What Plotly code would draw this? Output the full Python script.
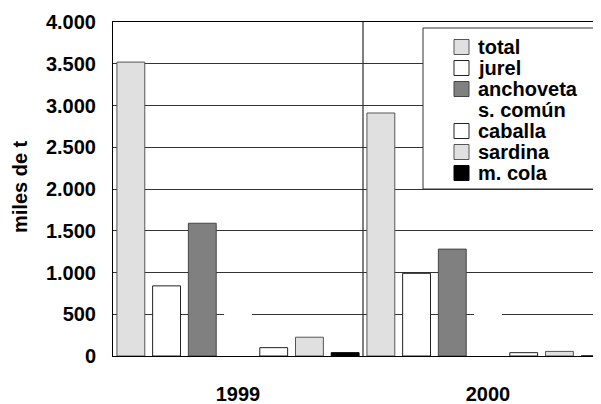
import plotly.graph_objects as go

categories = ["1999", "2000"]
series_names = ["total", "jurel", "anchoveta", "s. común", "caballa", "sardina", "m. cola"]
total = [3520, 2910]
jurel = [840, 990]
anchoveta = [1590, 1280]
s_comun = [600, 600]
caballa = [100, 40]
sardina = [225, 55]
m_cola = [40, 0]
y_ticks = [0, 500, 1000, 1500, 2000, 2500, 3000, 3500, 4000]

values = [total, jurel, anchoveta, s_comun, caballa, sardina, m_cola]
fills = ["#e0e0e0", "#ffffff", "#808080", "#ffffff", "#ffffff", "#e0e0e0", "#000000"]
lines = ["#555555", "#222222", "#444444", "#ffffff", "#222222", "#555555", "#000000"]
lwidth = [1, 1, 1, 0, 1, 1, 1]

FONT = "Liberation Sans, Arial, sans-serif"

fig = go.Figure()
for name, v, f, lc, lw in zip(series_names, values, fills, lines, lwidth):
    fig.add_trace(go.Bar(x=categories, y=v, name=name, showlegend=False,
                         marker=dict(color=f, line=dict(color=lc, width=lw))))

# page body has an 8px margin; figure is sized so it ends at the window edge
OFF = 8
W, H = 601 - OFF, 404 - OFF
L, T = 113 - OFF, 22 - OFF
B = H - (356 - OFF)
pw = W - L
ph = H - T - B

def px_x(p):
    return (p - 113) / pw

def px_y(p):
    return (356 - p) / ph

shapes = [
    dict(type="line", xref="x", yref="paper", x0=0.5, x1=0.5, y0=0, y1=1,
         line=dict(color="black", width=1), layer="below"),
    dict(type="rect", xref="paper", yref="paper", x0=px_x(423), x1=1.1,
         y0=px_y(189), y1=px_y(28), line=dict(color="#333333", width=1),
         fillcolor="white", layer="above"),
]
annotations = [
    dict(text="<b>miles de t</b>", xref="paper", yref="paper", x=px_x(20), y=px_y(187),
         textangle=-90, showarrow=False, xanchor="center", yanchor="middle",
         font=dict(family=FONT, size=20, color="black")),
]

# manual legend (compact rows like the reference)
row0, step = 47, 21.0
for i, (name, f, lc, lw) in enumerate(zip(series_names, fills, lines, lwidth)):
    yc = row0 + i * step
    if lw > 0:
        shapes.append(dict(type="rect", xref="paper", yref="paper",
                           x0=px_x(454), x1=px_x(469), y0=px_y(yc + 7.5), y1=px_y(yc - 7.5),
                           fillcolor=f, line=dict(color=lc, width=1), layer="above"))
    annotations.append(dict(text="<b>%s</b>" % name, xref="paper", yref="paper",
                            x=px_x(476), y=px_y(yc), xanchor="left", yanchor="middle",
                            showarrow=False, font=dict(family=FONT, size=20, color="black")))

fig.update_layout(
    width=W, height=H,
    margin=dict(l=L, r=0, t=T, b=B, autoexpand=False),
    paper_bgcolor="white", plot_bgcolor="white",
    barmode="group", bargap=0, bargroupgap=0.22,
    separators=",.",
    font=dict(family=FONT, color="black"),
    showlegend=False,
    xaxis=dict(range=[-0.5, 1.452], showgrid=False, showline=True, linecolor="black",
               linewidth=1, mirror=True, ticks="", ticklabelstandoff=20, automargin=False,
               tickfont=dict(family=FONT, size=20, color="black", weight="bold")),
    yaxis=dict(range=[0, 4000], tickvals=y_ticks, tickformat=",d", showgrid=True,
               gridcolor="#333333", gridwidth=1, showline=True, linecolor="black",
               linewidth=1, mirror=False, ticks="", ticklabelstandoff=12, zeroline=False,
               automargin=False,
               tickfont=dict(family=FONT, size=20, color="black", weight="bold")),
    shapes=shapes,
    annotations=annotations,
)

fig.write_html("out.html")
